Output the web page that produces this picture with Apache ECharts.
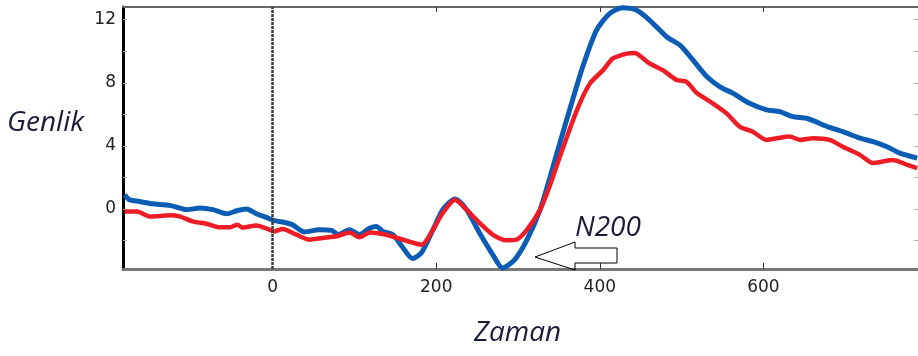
<!DOCTYPE html>
<html>
<head>
<meta charset="utf-8">
<script src="https://cdn.jsdelivr.net/npm/echarts@6/dist/echarts.min.js"></script>
<style>
  html, body { margin: 0; padding: 0; background: #fff; }
  #chart { width: 918px; height: 356px; }
</style>
</head>
<body>
<div id="chart"></div>
<script>
// time (ms) and amplitude
const blueTime = [-181, -175, -163, -147, -126, -105, -89, -73, -56, -44, -32, -20, -7, 2, 12, 24, 39, 57, 72, 80, 94, 106, 119, 127, 135, 147, 158, 171, 182, 196, 208, 223, 237, 253, 269, 281, 296, 311, 327, 339, 347, 363, 379, 396, 412, 428, 445, 461, 482, 498, 514, 531, 547, 563, 583, 604, 620, 636, 653, 678, 697, 718, 734, 751, 767, 788]
const blueAmp = [0.90, 0.59, 0.48, 0.33, 0.23, -0.04, 0.06, -0.04, -0.30, -0.11, 0.0, -0.30, -0.55, -0.74, -0.82, -0.99, -1.45, -1.31, -1.35, -1.62, -1.31, -1.62, -1.20, -1.10, -1.42, -1.62, -2.36, -3.14, -2.76, -1.31, -0.04, 0.63, -0.04, -1.52, -2.89, -3.73, -3.20, -1.94, -0.04, 2.0, 3.45, 6.27, 9.0, 11.33, 12.38, 12.75, 12.59, 11.96, 10.90, 10.38, 9.43, 8.38, 7.74, 7.33, 6.70, 6.28, 6.17, 5.85, 5.75, 5.22, 4.90, 4.49, 4.27, 3.95, 3.54, 3.22]

const redTime = [-181, -166, -150, -126, -114, -98, -81, -65, -53, -43, -37, -20, -7, 2, 12, 29, 45, 61, 78, 94, 106, 119, 135, 152, 168, 182, 196, 208, 223, 237, 253, 269, 286, 298, 311, 327, 339, 351, 372, 388, 404, 416, 433, 443, 453, 461, 477, 494, 506, 519, 538, 555, 571, 587, 604, 617, 632, 645, 661, 681, 697, 718, 734, 746, 758, 776, 788]
const redAmp = [-0.15, -0.15, -0.47, -0.40, -0.47, -0.78, -0.93, -1.16, -1.16, -0.99, -1.18, -1.04, -1.24, -1.42, -1.26, -1.62, -1.94, -1.83, -1.73, -1.48, -1.79, -1.48, -1.58, -1.83, -2.08, -2.26, -1.31, -0.25, 0.59, -0.04, -0.88, -1.62, -1.98, -1.94, -1.31, -0.04, 1.50, 3.30, 6.27, 7.96, 8.80, 9.54, 9.85, 9.89, 9.54, 9.22, 8.80, 8.17, 8.06, 7.33, 6.70, 6.06, 5.22, 4.90, 4.38, 4.49, 4.59, 4.38, 4.49, 4.38, 3.95, 3.43, 2.91, 3.01, 3.11, 2.80, 2.59]

const xLabels = [0, 200, 400, 600]
const yLabels = [0, 4, 8, 12]
const yTicks = [-2, 0, 2, 4, 6, 8, 10, 12]

const chart = echarts.init(document.getElementById('chart'))

const textFont = { fontFamily: 'Open Sans', fontStyle: 'italic', fontSize: 28, fill: '#1b1b3b' }

chart.setOption({
  animation: false,
  grid: { left: 123, right: 0, top: 7, bottom: 87 },
  xAxis: [
    {
      type: 'value',
      min: -183,
      max: 789,
      axisLine: { onZero: false, lineStyle: { color: '#777', width: 3 } },
      axisTick: { inside: true, length: 6, customValues: [200, 400, 600], lineStyle: { color: '#333', width: 1 } },
      axisLabel: { customValues: xLabels, color: '#222', fontSize: 17, fontFamily: 'DejaVu Sans', margin: 10 },
      splitLine: { show: false },
    },
    {
      type: 'value',
      position: 'top',
      min: -183,
      max: 789,
      axisLine: { show: true, onZero: false, lineStyle: { color: '#666', width: 2 } },
      axisTick: { inside: true, length: 5, customValues: [200, 400, 600], lineStyle: { color: '#333' } },
      axisLabel: { show: false },
      splitLine: { show: false },
    },
  ],
  yAxis: [
    {
      type: 'value',
      min: -3.8,
      max: 12.8,
      axisLine: { show: true, onZero: false, lineStyle: { color: '#000', width: 3 } },
      axisTick: { inside: true, length: 4, customValues: yTicks, lineStyle: { color: '#aaa' } },
      axisLabel: { customValues: yLabels, color: '#222', fontSize: 17, fontFamily: 'DejaVu Sans', margin: 7 },
      splitLine: { show: false },
    },
    {
      type: 'value',
      position: 'right',
      min: -3.8,
      max: 12.8,
      axisLine: { show: false, onZero: false },
      axisTick: { show: true, inside: true, length: 4, customValues: yTicks, lineStyle: { color: '#aaa' } },
      axisLabel: { show: false },
      splitLine: { show: false },
    },
  ],
  series: [
    {
      name: 'blue',
      type: 'line',
      data: blueTime.map((t, i) => [t, blueAmp[i]]),
      smooth: 0.25,
      symbol: 'none',
      clip: false,
      lineStyle: { color: '#0b5cb5', width: 5 },
      markLine: {
        silent: true,
        symbol: 'none',
        label: { show: false },
        lineStyle: { color: '#3a3a3a', width: 2.5, type: [3, 1] },
        data: [{ xAxis: 0 }],
      },
    },
    {
      name: 'red',
      type: 'line',
      data: redTime.map((t, i) => [t, redAmp[i]]),
      smooth: 0.25,
      symbol: 'none',
      lineStyle: { color: '#ee1c25', width: 4.5 },
    },
  ],
  graphic: [
    { type: 'text', left: 7, top: 109, style: { text: 'Genlik', ...textFont } },
    { type: 'text', left: 474, top: 319, style: { text: 'Zaman', ...textFont } },
    { type: 'text', left: 575, top: 214, style: { text: 'N200', ...textFont } },
    {
      type: 'polygon',
      shape: { points: [[535, 257], [575, 242], [575, 248], [617, 248], [617, 263], [575, 263], [575, 270]] },
      style: { fill: 'none', stroke: '#000', lineWidth: 1 },
      z: 10,
    },
  ],
})
</script>
</body>
</html>
